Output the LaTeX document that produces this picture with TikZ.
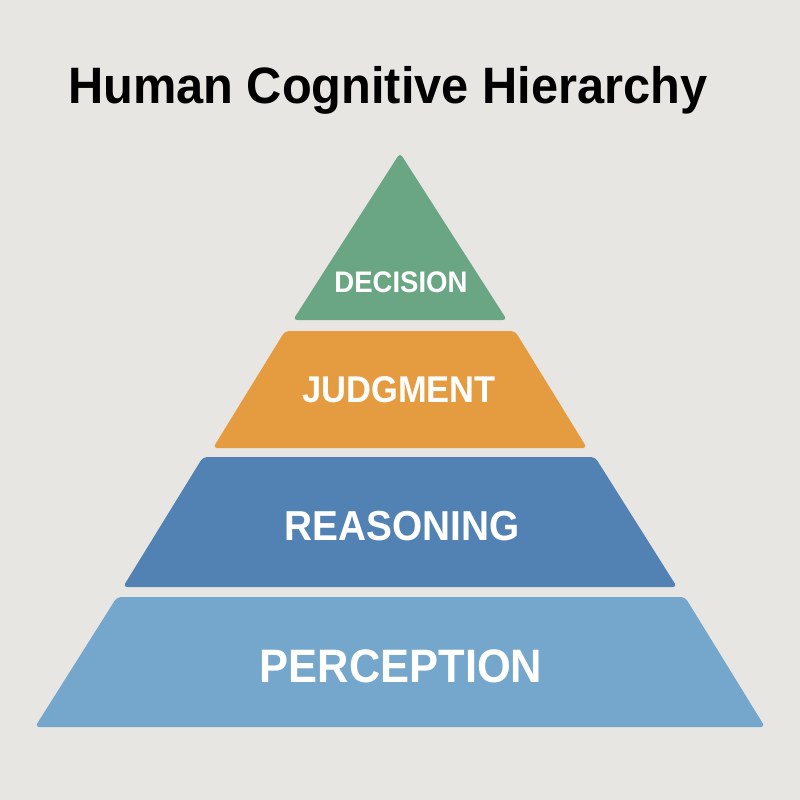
\documentclass[tikz,border=0pt]{standalone}
\usepackage{fontspec}
\setmainfont{Liberation Sans}
\usepackage{tikz}
\usetikzlibrary{positioning}
\usepackage{xcolor}
\definecolor{bgcol}{HTML}{E8E6E3}
\definecolor{decisioncol}{HTML}{6BA684}
\definecolor{judgmentcol}{HTML}{E59B40}
\definecolor{reasoningcol}{HTML}{5282B4}
\definecolor{perceptioncol}{HTML}{74A7CB}

\begin{document}
\begin{tikzpicture}[x=0.03cm,y=-0.03cm,
    layer/.style={rounded corners=3.4pt},
    lbl/.style={text=white,inner sep=0pt,anchor=base,yscale=1.08}]
    \fill[bgcol] (0,0) rectangle (800,800);
    \useasboundingbox (0,0) rectangle (800,800);
    \node[anchor=base west,inner sep=0pt,yscale=1.05,font=\fontsize{41.6}{42}\selectfont\bfseries] (title) at (68,103) {Human Cognitive Hierarchy};
    % top layer
    \coordinate (A) at (400,153);
    \fill[layer,decisioncol] (A) -- (507,320) -- (293,320) -- cycle;
    % second layer
    \fill[layer,judgmentcol] (285,331) -- (515,331) -- (587,448) -- (213,448) -- cycle;
    % third layer
    \fill[layer,reasoningcol] (203,457) -- (595,457) -- (677,587) -- (123,587) -- cycle;
    % base layer
    \fill[layer,perceptioncol] (117,597) -- (685,597) -- (765,727) -- (35,727) -- cycle;
    \node[lbl,font=\fontsize{23.5}{24}\selectfont\bfseries] (D) at (401,292) {DECISION};
    \node[lbl,font=\fontsize{29.4}{30}\selectfont\bfseries] (J) at (399,402) {JUDGMENT};
    \node[lbl,font=\fontsize{33.1}{34}\selectfont\bfseries] (R) at (402,540) {REASONING};
    \node[lbl,font=\fontsize{37.1}{38}\selectfont\bfseries] (P) at (401,682) {PERCEPTION};
\end{tikzpicture}
\end{document}
